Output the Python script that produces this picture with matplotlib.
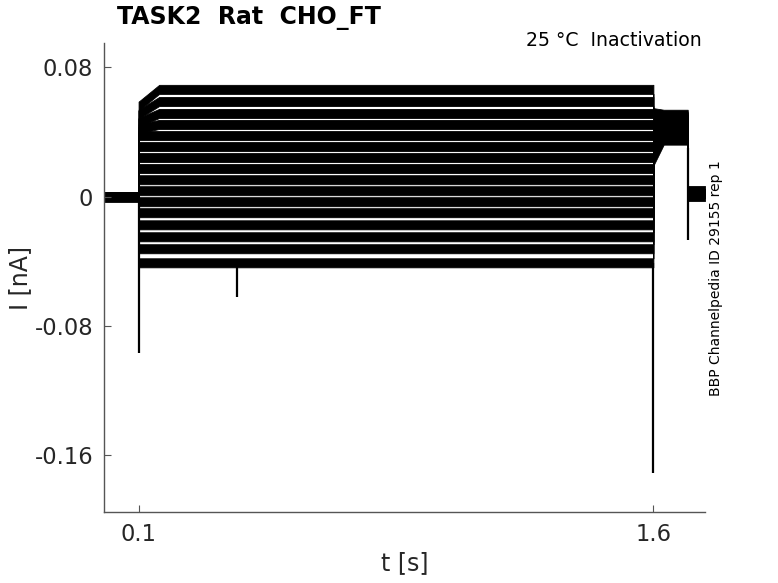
import numpy as np
import matplotlib
matplotlib.use('Agg')
from matplotlib import pyplot as plt

# protocol timing [s]
t_on = 0.1
t_rise = 0.16
t_off = 1.6
t_test_settle = 1.63
t_test_off = 1.7
t_end = 1.75

# holding current [nA]
hold_level = 0.0
tail_level = 0.002

# conditioning pulse, one value per sweep [nA]
pre_onset = [0.056, 0.051, 0.046, 0.042, 0.0378, 0.031, 0.0242, 0.0174,
             0.0105, 0.0037, -0.0031, -0.0099, -0.0174, -0.0248, -0.0322, -0.0409]
pre_steady = [0.0664, 0.0589, 0.0515, 0.0447, 0.0378, 0.031, 0.0242, 0.0174,
              0.0105, 0.0037, -0.0031, -0.0099, -0.0174, -0.0248, -0.0322, -0.0409]

# test pulse, one value per sweep [nA]
test_start = [0.052, 0.050, 0.048, 0.046, 0.044, 0.042, 0.040, 0.038,
              0.036, 0.034, 0.032, 0.030, 0.028, 0.026, 0.024, 0.022]
test_end = [0.051, 0.050, 0.049, 0.048, 0.047, 0.046, 0.045, 0.044,
            0.043, 0.042, 0.041, 0.040, 0.039, 0.038, 0.037, 0.035]

# peak-to-peak recording noise [nA]
noise_pp = 0.0056
tail_noise_pp = 0.009

# capacitive transients / glitches
transient_t = [0.1, 0.386, 1.6, 1.7]
transient_from = [0.0, -0.041, -0.041, 0.03]
transient_min = [-0.097, -0.062, -0.171, -0.027]


fig = plt.figure(figsize=(7.78, 5.83), dpi=100)
ax = fig.add_axes([0.134, 0.122, 0.772, 0.804])

t = [0, t_on, t_on, t_rise, t_off, t_off, t_test_settle, t_test_off, t_test_off, t_end]
for i in range(len(pre_steady)):
	y = np.array([hold_level, hold_level, pre_onset[i], pre_steady[i], pre_steady[i],
				  test_start[i], test_end[i], test_end[i], tail_level, tail_level])
	ax.fill_between(t, y - noise_pp / 2, y + noise_pp / 2, color='black', lw=0.6,
					edgecolor='black')

# noisier tail after the test pulse
ax.fill_between([t_test_off, t_end], tail_level - tail_noise_pp / 2,
				tail_level + tail_noise_pp / 2, color='black', lw=0.6)

ax.vlines(transient_t, transient_min, transient_from, color='black', lw=1.6)

ax.set_xlim(0, 1.75)
ax.set_ylim(-0.195, 0.095)
ax.set_xticks([0.1, 1.6])
ax.set_xticklabels(['0.1', '1.6'])
ax.set_yticks([-0.16, -0.08, 0, 0.08])
ax.set_yticklabels(['-0.16', '-0.08', '0', '0.08'])

for s in ['top', 'right']:
	ax.spines[s].set_visible(False)
for s in ['left', 'bottom']:
	ax.spines[s].set_color('#555555')
	ax.spines[s].set_linewidth(1.0)
ax.tick_params(direction='in', length=5, width=0.8, color='#555555',
			   labelsize=16.3, labelcolor='#262626', pad=8)

ax.set_xlabel('t [s]', fontsize=17, color='#262626', labelpad=4)
ax.set_ylabel('I [nA]', fontsize=17, color='#262626', labelpad=2)

fig.text(117 / 778, 1 - 18 / 583, 'TASK2  Rat  CHO_FT', fontsize=17,
		 fontweight='bold', ha='left', va='center')
fig.text(702 / 778, 1 - 40 / 583, '25 °C  Inactivation', fontsize=13.6,
		 ha='right', va='center')
fig.text(716 / 778, 1 - 278 / 583, 'BBP Channelpedia ID 29155 rep 1',
		 fontsize=10, rotation=90, ha='center', va='center')

fig.savefig('out.png', dpi=100)
